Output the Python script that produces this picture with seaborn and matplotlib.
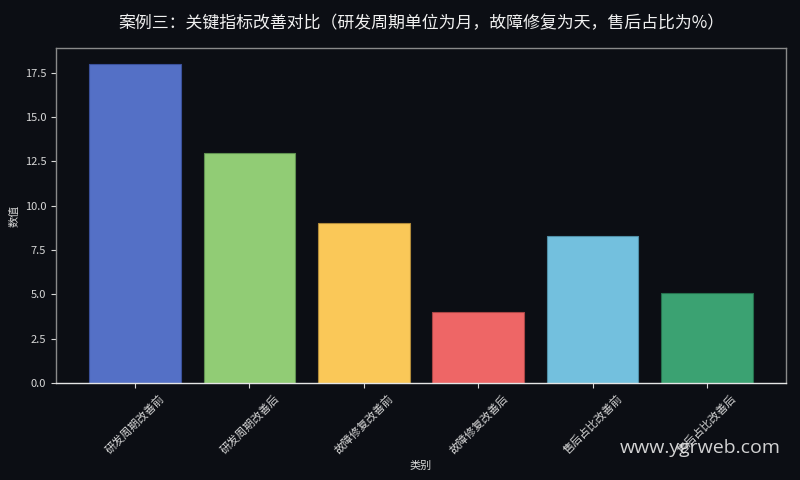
import matplotlib
matplotlib.use("Agg")
import matplotlib.pyplot as plt
import pandas as pd
import seaborn as sns

categories = ["研发周期改善前", "研发周期改善后", "故障修复改善前",
              "故障修复改善后", "售后占比改善前", "售后占比改善后"]
values = [18, 13, 9, 4, 8.3, 5.1]
colors = ["#5470c6", "#91cc75", "#fac858", "#ee6666", "#73c0de", "#3ba272"]
edge_colors = ["#3a509a", "#5f9050", "#b08a3a", "#a84545", "#4f8ea6", "#25704d"]

bg = "#0c0e14"
sns.set_theme(style="dark", rc={"patch.force_edgecolor": False})
plt.rcParams["font.family"] = ["Noto Sans CJK SC", "DejaVu Sans"]
plt.rcParams["axes.unicode_minus"] = False

df = pd.DataFrame({"类别": categories, "数值": values})

fig = plt.figure(figsize=(8, 4.8), dpi=100, facecolor=bg)
ax = fig.add_axes([0.07, 0.202, 0.9125, 0.698])
ax.set_facecolor(bg)

sns.barplot(data=df, x="类别", y="数值", hue="类别", palette=colors,
            legend=False, width=0.8, saturation=1, ax=ax)
# darker outline per bar, like the original
for container, ec in zip(ax.containers, edge_colors):
    for bar in container:
        bar.set_edgecolor(ec)
        bar.set_linewidth(0.8)

ax.set_xlim(-0.69, len(categories) - 0.31)
ax.set_ylim(0, max(values) * 1.05)
ax.grid(False)

for side in ["left", "right", "top"]:
    ax.spines[side].set_visible(True)
    ax.spines[side].set_color("#8a8a8a")
    ax.spines[side].set_linewidth(1)
ax.spines["bottom"].set_visible(True)
ax.spines["bottom"].set_color("#e6e6e6")
ax.spines["bottom"].set_linewidth(1)

ax.tick_params(axis="both", colors="#d8d8d8", labelsize=8, length=3.5,
               width=0.8, bottom=True, left=True)
plt.setp(ax.get_xticklabels(), rotation=45, ha="center")

ax.set_xlabel("类别", color="#d8d8d8", fontsize=8)
ax.set_ylabel("数值", color="#d8d8d8", fontsize=8)
ax.set_title("案例三：关键指标改善对比（研发周期单位为月，故障修复为天，售后占比为%）",
             color="#f0f0f0", fontsize=12.2, pad=14)

fig.text(0.976, 0.067, "www.ygrweb.com", ha="right", va="center",
         fontsize=14, color="#e8e8e8", alpha=0.9, family=["Open Sans", "DejaVu Sans"])

fig.savefig("out.png", dpi=100, facecolor=bg)
